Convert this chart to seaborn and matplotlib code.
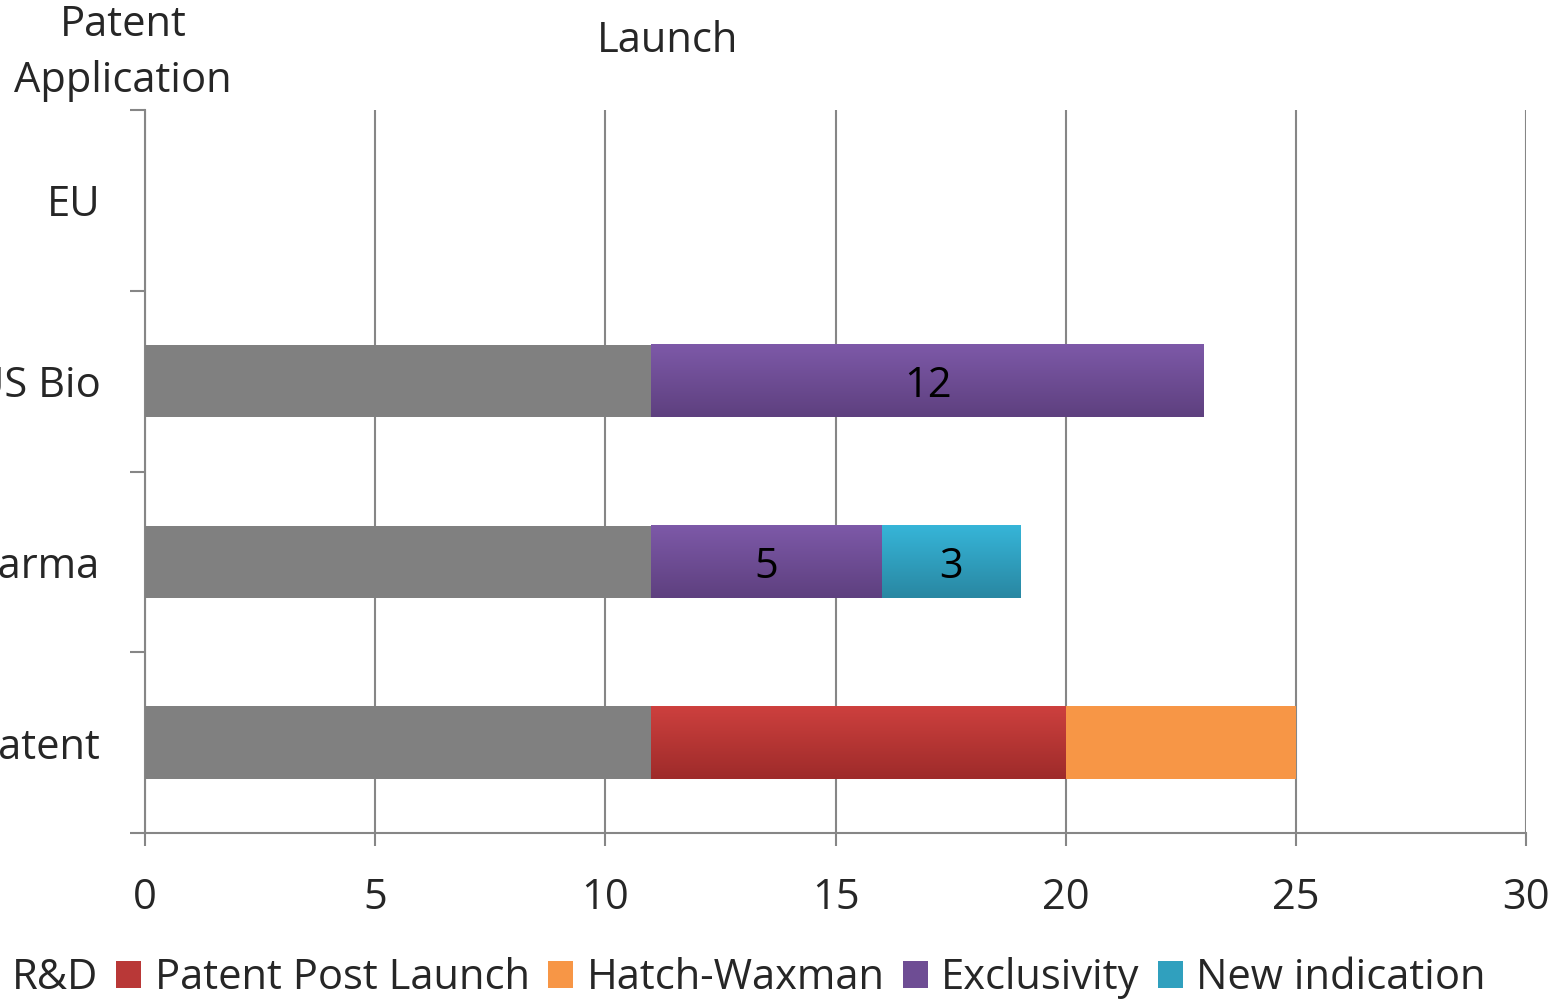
import matplotlib
matplotlib.use("Agg")
import matplotlib.pyplot as plt
import numpy as np
import pandas as pd
import seaborn as sns
from matplotlib.colors import to_rgb
from matplotlib.patches import Patch

# chart data
categories = ["EU", "US Bio", "Pharma", "Patent"]
series_names = ["R&D", "Patent Post Launch", "Hatch-Waxman", "Exclusivity", "New indication"]
rnd = [0, 11, 11, 11]
patent_post_launch = [0, 0, 0, 9]
hatch_waxman = [0, 0, 0, 5]
exclusivity = [0, 12, 5, 0]
new_indication = [0, 0, 3, 0]
x_ticks = [0, 5, 10, 15, 20, 25, 30]

colors = ["#808080", "#B93837", "#F79646", "#6E4D94", "#30A0BE"]
# top / bottom shade for the segments that carry a vertical gradient
gradients = {
    "Patent Post Launch": ("#CD403E", "#9E2B2A"),
    "Exclusivity": ("#7D59A8", "#5E407F"),
    "New indication": ("#36B5D8", "#2987A2"),
}
labelled = {"Exclusivity", "New indication"}
BAR_H = 0.40

sns.set_theme(style="white")
plt.rcParams["font.family"] = ["Open Sans", "DejaVu Sans"]
FS = 30

df = pd.DataFrame({
    "category": categories,
    "R&D": rnd,
    "Patent Post Launch": patent_post_launch,
    "Hatch-Waxman": hatch_waxman,
    "Exclusivity": exclusivity,
    "New indication": new_indication,
})

# cumulative ends of each stacked segment
cum = df[series_names].cumsum(axis=1)

fig = plt.figure(figsize=(15.59, 10), dpi=100)
ax = fig.add_axes([0.093, 0.167, 0.886, 0.723])

# draw from the outermost segment back, so each shorter one covers the start
for name, color in reversed(list(zip(series_names, colors))):
    sns.barplot(x=cum[name], y=df["category"], orient="h", color=color,
                width=BAR_H, saturation=1, linewidth=0, edgecolor="none",
                ax=ax, zorder=3)

# vertical gradient overlay on the coloured segments
for name, (top, bottom) in gradients.items():
    grad = np.linspace(to_rgb(top), to_rgb(bottom), 64).reshape(64, 1, 3)
    for i, val in enumerate(df[name]):
        if val <= 0:
            continue
        x1 = cum[name][i]
        x0 = x1 - val
        ax.imshow(grad, extent=(x0, x1, i + BAR_H / 2, i - BAR_H / 2),
                  aspect="auto", interpolation="bilinear", zorder=4)

# labels in the middle of selected segments
for name in series_names:
    if name not in labelled:
        continue
    for i, val in enumerate(df[name]):
        if val > 0:
            mid = cum[name][i] - val / 2
            ax.text(mid, i, f"{val}", ha="center", va="center_baseline",
                    fontsize=FS, color="black", zorder=5)

ax.set_xlim(0, 30)
ax.set_ylim(3.5, -0.5)
ax.set_xticks(x_ticks)
ax.set_xlabel("")
ax.set_ylabel("")
ax.grid(axis="x", color="#868686", linewidth=1.5, zorder=0)
ax.grid(axis="y", visible=False)

for side in ["top", "right"]:
    ax.spines[side].set_visible(False)
for side in ["left", "bottom"]:
    ax.spines[side].set_color("#868686")
    ax.spines[side].set_linewidth(1.5)

ax.set_yticks(np.arange(-0.5, 4, 1), minor=True)
ax.tick_params(axis="y", which="major", length=0, pad=32, labelsize=FS)
ax.tick_params(axis="y", which="minor", length=11, width=1.5, color="#868686",
               direction="out", left=True)
ax.tick_params(axis="x", which="major", length=9, width=1.5, color="#868686",
               direction="out", bottom=True, pad=23, labelsize=FS)

fig.text(0.079, 0.975, "Patent", ha="center", va="center", fontsize=FS)
fig.text(0.079, 0.919, "Application", ha="center", va="center", fontsize=FS)
fig.text(0.428, 0.959, "Launch", ha="center", va="center", fontsize=FS)

handles = [Patch(facecolor=c, edgecolor="none") for c in colors]
fig.legend(handles, series_names, loc="center", bbox_to_anchor=(0.468, 0.022),
           ncol=5, frameon=False, fontsize=FS, handlelength=0.6, handleheight=0.6,
           handletextpad=0.33, columnspacing=0.43)

fig.savefig("out.png", dpi=100)
